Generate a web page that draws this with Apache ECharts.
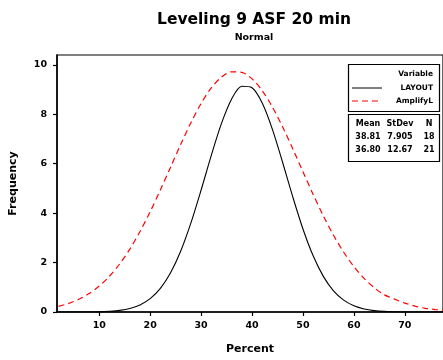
<!DOCTYPE html>
<html><head><meta charset="utf-8">
<script src="https://cdn.jsdelivr.net/npm/echarts@6/dist/echarts.min.js"></script>
<style>html,body{margin:0;padding:0;background:#fff}#c{width:443px;height:360px}</style>
</head><body><div id="c"></div>
<script>
const xTicks = [10, 20, 30, 40, 50, 60, 70];
const yTicks = [0, 2, 4, 6, 8, 10];
const xs = [2,4,6,8,10,12,14,16,18,20,22,24,26,28,30,32,34,36,38,40,42,44,46,48,50,52,54,56,58,60,62,64,66,68,70,72,74,76,78];
const layoutVals = [0,0,0,0,0.005,0.029,0.067,0.143,0.287,0.541,0.957,1.587,2.470,3.606,4.936,6.338,7.632,8.621,9.133,9.074,8.456,7.392,6.060,4.660,3.360,2.273,1.442,0.858,0.479,0.251,0.123,0.057,0.025,0.010,0,0,0,0,0];
const amplifyVals = [0.228,0.347,0.514,0.745,1.051,1.447,1.944,2.547,3.256,4.061,4.939,5.862,6.785,7.662,8.440,9.069,9.506,9.721,9.697,9.436,8.957,8.294,7.492,6.602,5.676,4.759,3.893,3.106,2.418,1.836,1.361,0.983,0.693,0.52,0.36,0.24,0.15,0.10,0.07];
const seriesNames = ['LAYOUT', 'AmplifyL'];
const statHeader = ['Mean', 'StDev', 'N'];
const statRows = [['38.81', '7.905', '18'], ['36.80', '12.67', '21']];

const F = 'DejaVu Sans';
const chart = echarts.init(document.getElementById('c'), null, {renderer: 'canvas'});
const pair = (v) => xs.map((x, i) => [x, v[i]]);

const g = [];
g.push({type:'rect', shape:{x:348.5,y:64.5,width:91,height:47}, style:{fill:'#fff',stroke:'#000',lineWidth:1.2}, z:100});
g.push({type:'text', style:{text:'Variable', x:433, y:74, align:'right', verticalAlign:'middle', font:'bold 7.5px "'+F+'"', fill:'#000'}, z:101});
g.push({type:'line', shape:{x1:352,y1:88,x2:382,y2:88}, style:{stroke:'#000',lineWidth:1}, z:101});
g.push({type:'text', style:{text:seriesNames[0], x:433, y:88, align:'right', verticalAlign:'middle', font:'bold 7.5px "'+F+'"', fill:'#000'}, z:101});
g.push({type:'line', shape:{x1:352,y1:101,x2:382,y2:101}, style:{stroke:'#ff0000',lineWidth:1.2,lineDash:[6,4]}, z:101});
g.push({type:'text', style:{text:seriesNames[1], x:433, y:101, align:'right', verticalAlign:'middle', font:'bold 7.5px "'+F+'"', fill:'#000'}, z:101});
g.push({type:'rect', shape:{x:348.5,y:114.5,width:91,height:47}, style:{fill:'#fff',stroke:'#000',lineWidth:1.2}, z:100});
const colX = [368, 400, 429];
const rowY = [123.5, 137, 150];
statHeader.forEach((t, j) => g.push({type:'text', style:{text:t, x:colX[j], y:rowY[0], align:'center', verticalAlign:'middle', font:'bold 8px "'+F+'"', fill:'#000'}, z:101}));
statRows.forEach((r, i) => r.forEach((t, j) => g.push({type:'text', style:{text:t, x:colX[j], y:rowY[i+1], align:'center', verticalAlign:'middle', font:'bold 8px "'+F+'"', fill:'#000'}, z:101})));

chart.setOption({
  animation: false,
  backgroundColor: '#fff',
  title: [
    {text: 'Leveling 9 ASF 20 min', left: 249, top: 7, textAlign: 'center', textStyle: {fontFamily: F, fontWeight: 'bold', fontSize: 15.5, color: '#000'}},
    {text: 'Normal', left: 249, top: 28, textAlign: 'center', textStyle: {fontFamily: F, fontWeight: 'bold', fontSize: 9.5, color: '#000'}}
  ],
  grid: {left: 52, top: 55, width: 391, height: 265, show: true, borderColor: '#000', borderWidth: 1.2, backgroundColor: 'transparent'},
  xAxis: {
    type: 'value', min: 1.7, max: 77.5,
    name: 'Percent', nameLocation: 'middle', nameGap: 32,
    nameTextStyle: {fontFamily: F, fontWeight: 'bold', fontSize: 11, color: '#000'},
    splitLine: {show: false},
    axisLine: {show: true, onZero: false, lineStyle: {color: '#000', width: 1.5}},
    axisTick: {show: true, length: 4, customValues: xTicks, lineStyle: {color: '#000', width: 1.2}},
    axisLabel: {customValues: xTicks, fontFamily: F, fontWeight: 'bold', fontSize: 9.5, color: '#000', margin: 9}
  },
  yAxis: {
    type: 'value', min: 0, max: 10.4,
    name: 'Frequency', nameLocation: 'middle', nameGap: 38, nameRotate: 90,
    nameTextStyle: {fontFamily: F, fontWeight: 'bold', fontSize: 11, color: '#000'},
    splitLine: {show: false},
    axisLine: {show: true, lineStyle: {color: '#000', width: 1.5}},
    axisTick: {show: true, length: 4, customValues: yTicks, lineStyle: {color: '#000', width: 1.2}},
    axisLabel: {customValues: yTicks, fontFamily: F, fontWeight: 'bold', fontSize: 9.5, color: '#000', margin: 10}
  },
  series: [
    {name: seriesNames[0], type: 'line', data: pair(layoutVals), smooth: 0.3, showSymbol: false, lineStyle: {color: '#000', width: 1.1}},
    {name: seriesNames[1], type: 'line', data: pair(amplifyVals), smooth: 0.3, showSymbol: false, lineStyle: {color: '#ff0000', width: 1.2, type: [6, 4]}}
  ],
  graphic: g
});
</script></body></html>
